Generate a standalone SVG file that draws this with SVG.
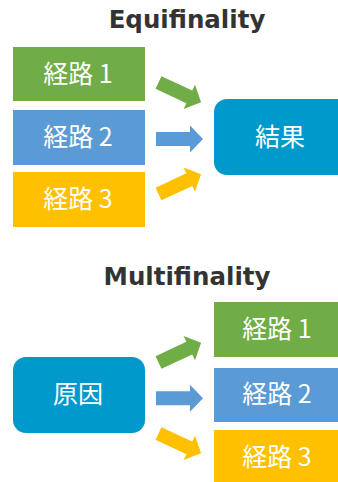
<svg xmlns="http://www.w3.org/2000/svg" width="338" height="482" viewBox="0 0 338 482">
<style>
.title{font-family:"DejaVu Sans","Verdana",sans-serif;font-weight:bold;font-size:24.5px;fill:#333333;text-anchor:middle}
.lbl{font-family:"Noto Sans CJK JP","Noto Sans",sans-serif;font-size:25px;fill:#ffffff;text-anchor:middle;dominant-baseline:central}
.g{fill:#70AD47}.b{fill:#5B9BD5}.y{fill:#FFC000}.c{fill:#0099CC}
</style>
<defs>
<polygon id="arr" points="0,-7 34,-7 34,-13.5 47,0 34,13.5 34,7 0,7"/>
</defs>
<rect width="338" height="482" fill="#ffffff"/>
<text class="title" x="187" y="28">Equifinality</text>
<text class="title" x="187" y="285">Multifinality</text>
<g id="eq-path1"><rect class="g" x="13" y="47" width="132" height="54"/><text class="lbl" x="78" y="72">経路 1</text></g>
<g id="eq-path2"><rect class="b" x="13" y="110" width="132" height="55"/><text class="lbl" x="78" y="135">経路 2</text></g>
<g id="eq-path3"><rect class="y" x="13" y="172" width="132" height="55"/><text class="lbl" x="78" y="197">経路 3</text></g>
<g id="eq-result"><rect class="c" x="214" y="99" width="140" height="76" rx="13"/><text class="lbl" x="280" y="135">結果</text></g>
<g id="mf-cause"><rect class="c" x="13" y="357" width="132" height="76" rx="13"/><text class="lbl" x="78" y="392">原因</text></g>
<g id="mf-path1"><rect class="g" x="214" y="302" width="130" height="55"/><text class="lbl" x="277" y="327">経路 1</text></g>
<g id="mf-path2"><rect class="b" x="214" y="368" width="130" height="54"/><text class="lbl" x="277" y="392">経路 2</text></g>
<g id="mf-path3"><rect class="y" x="214" y="430" width="130" height="60"/><text class="lbl" x="277" y="455">経路 3</text></g>
<g id="connectors">
<use href="#arr" class="g" transform="translate(158.5,82.5) rotate(25)"/>
<use href="#arr" class="b" transform="translate(156,139)"/>
<use href="#arr" class="y" transform="translate(158.5,194) rotate(-25)"/>
<use href="#arr" class="g" transform="translate(158.5,362.5) rotate(-25)"/>
<use href="#arr" class="b" transform="translate(156,398.3)"/>
<use href="#arr" class="y" transform="translate(158.5,433.5) rotate(25)"/>
</g>
</svg>
